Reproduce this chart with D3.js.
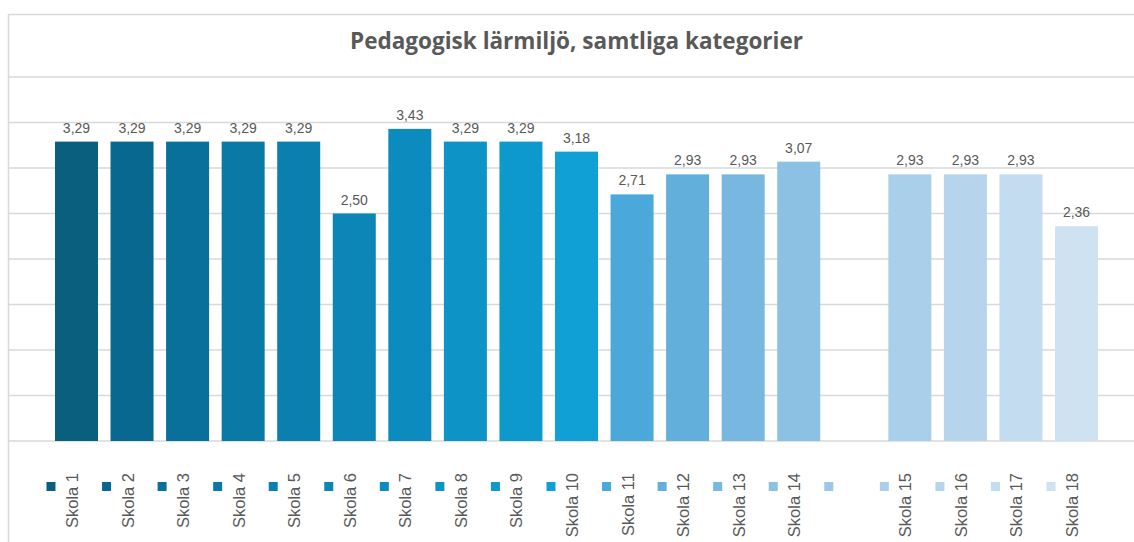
<!DOCTYPE html>
<html>
<head>
<meta charset="utf-8">
<script src="https://cdn.jsdelivr.net/npm/d3@7"></script>
<style>
  html, body { margin: 0; padding: 0; background: #fff; }
  svg { display: block; font-family: "Liberation Sans", Arial, sans-serif; }
</style>
</head>
<body>
<svg id="chart" width="1134" height="542"></svg>
<script>
/* Pedagogisk lärmiljö — bar chart, one series per school */
(function () {
  "use strict";

  // "" is the empty legend slot between Skola 14 and Skola 15
  var schools = ["Skola 1", "Skola 2", "Skola 3", "Skola 4", "Skola 5", "Skola 6", "Skola 7",
    "Skola 8", "Skola 9", "Skola 10", "Skola 11", "Skola 12", "Skola 13", "Skola 14", "",
    "Skola 15", "Skola 16", "Skola 17", "Skola 18"];
  var values = [3.29, 3.29, 3.29, 3.29, 3.29, 2.50, 3.43, 3.29, 3.29, 3.18, 2.71, 2.93, 2.93, 3.07, null,
    2.93, 2.93, 2.93, 2.36];
  var colors = ["#0a5e7e", "#096890", "#09709b", "#0a79a6", "#0b80af", "#0b86b6", "#0c8cbe",
    "#0d93c6", "#0e99cd", "#10a0d6", "#4ba8da", "#62afdc", "#77b7e0", "#8cc1e4", "#9bc8e6",
    "#a9cfea", "#b6d5ec", "#c3dcef", "#cfe2f2"];
  var yTicks = [0, 0.5, 1, 1.5, 2, 2.5, 3, 3.5, 4];
  var title = "Pedagogisk lärmiljö, samtliga kategorier";

  var W = 1134, H = 542;
  var GRID = "#d9d9d9", TEXT = "#595959";
  var svg = d3.select("#chart");

  var slots = schools.map(function (s, i) { return i; });
  var x = d3.scaleBand().domain(slots).range([48.7, 1104.3])
    .paddingInner(0.226).paddingOuter(0.113);
  var y = d3.scaleLinear().domain([0, 4]).range([441, 77]);
  var fmt = function (v) { return d3.format(".2f")(v).replace(".", ","); };

  // chart frame
  svg.append("rect")
    .attr("x", 8.5).attr("y", 14.5)
    .attr("width", W + 20).attr("height", H + 20)
    .attr("fill", "none").attr("stroke", GRID).attr("stroke-width", 1.5);

  // gridlines
  svg.append("g").selectAll("line")
    .data(yTicks)
    .join("line")
    .attr("x1", 8).attr("x2", W)
    .attr("y1", function (d) { return y(d); })
    .attr("y2", function (d) { return y(d); })
    .attr("stroke", GRID).attr("stroke-width", 1.5);

  // title
  svg.append("text")
    .attr("x", 576.5).attr("y", 49)
    .attr("text-anchor", "middle")
    .attr("font-family", "'Open Sans', 'Liberation Sans', sans-serif")
    .attr("font-weight", "bold").attr("font-size", 23)
    .attr("textLength", 453).attr("lengthAdjust", "spacingAndGlyphs")
    .attr("fill", TEXT)
    .text(title);

  var data = slots.filter(function (i) { return values[i] != null; });

  // bars
  svg.append("g").selectAll("rect")
    .data(data)
    .join("rect")
    .attr("x", function (i) { return x(i); })
    .attr("y", function (i) { return y(values[i]); })
    .attr("width", x.bandwidth())
    .attr("height", function (i) { return y(0) - y(values[i]); })
    .attr("fill", function (i) { return colors[i]; });

  // data labels
  svg.append("g").selectAll("text")
    .data(data)
    .join("text")
    .attr("x", function (i) { return x(i) + x.bandwidth() / 2; })
    .attr("y", function (i) { return y(values[i]) - 9; })
    .attr("text-anchor", "middle")
    .attr("font-size", 14)
    .attr("fill", TEXT)
    .text(function (i) { return fmt(values[i]); });

  // legend: marker + rotated label under each slot
  var legend = svg.append("g").selectAll("g")
    .data(slots)
    .join("g")
    .attr("transform", function (i) { return "translate(" + (x(i) + x.bandwidth() / 2) + ",0)"; });

  legend.append("rect")
    .attr("x", -30).attr("y", 482)
    .attr("width", 9).attr("height", 9)
    .attr("fill", function (i) { return colors[i]; });

  legend.append("text")
    .attr("transform", "translate(1.5,473) rotate(-90)")
    .attr("text-anchor", "end")
    .attr("font-size", 16.5)
    .attr("fill", TEXT)
    .text(function (i) { return schools[i]; });
})();
</script>
</body>
</html>
